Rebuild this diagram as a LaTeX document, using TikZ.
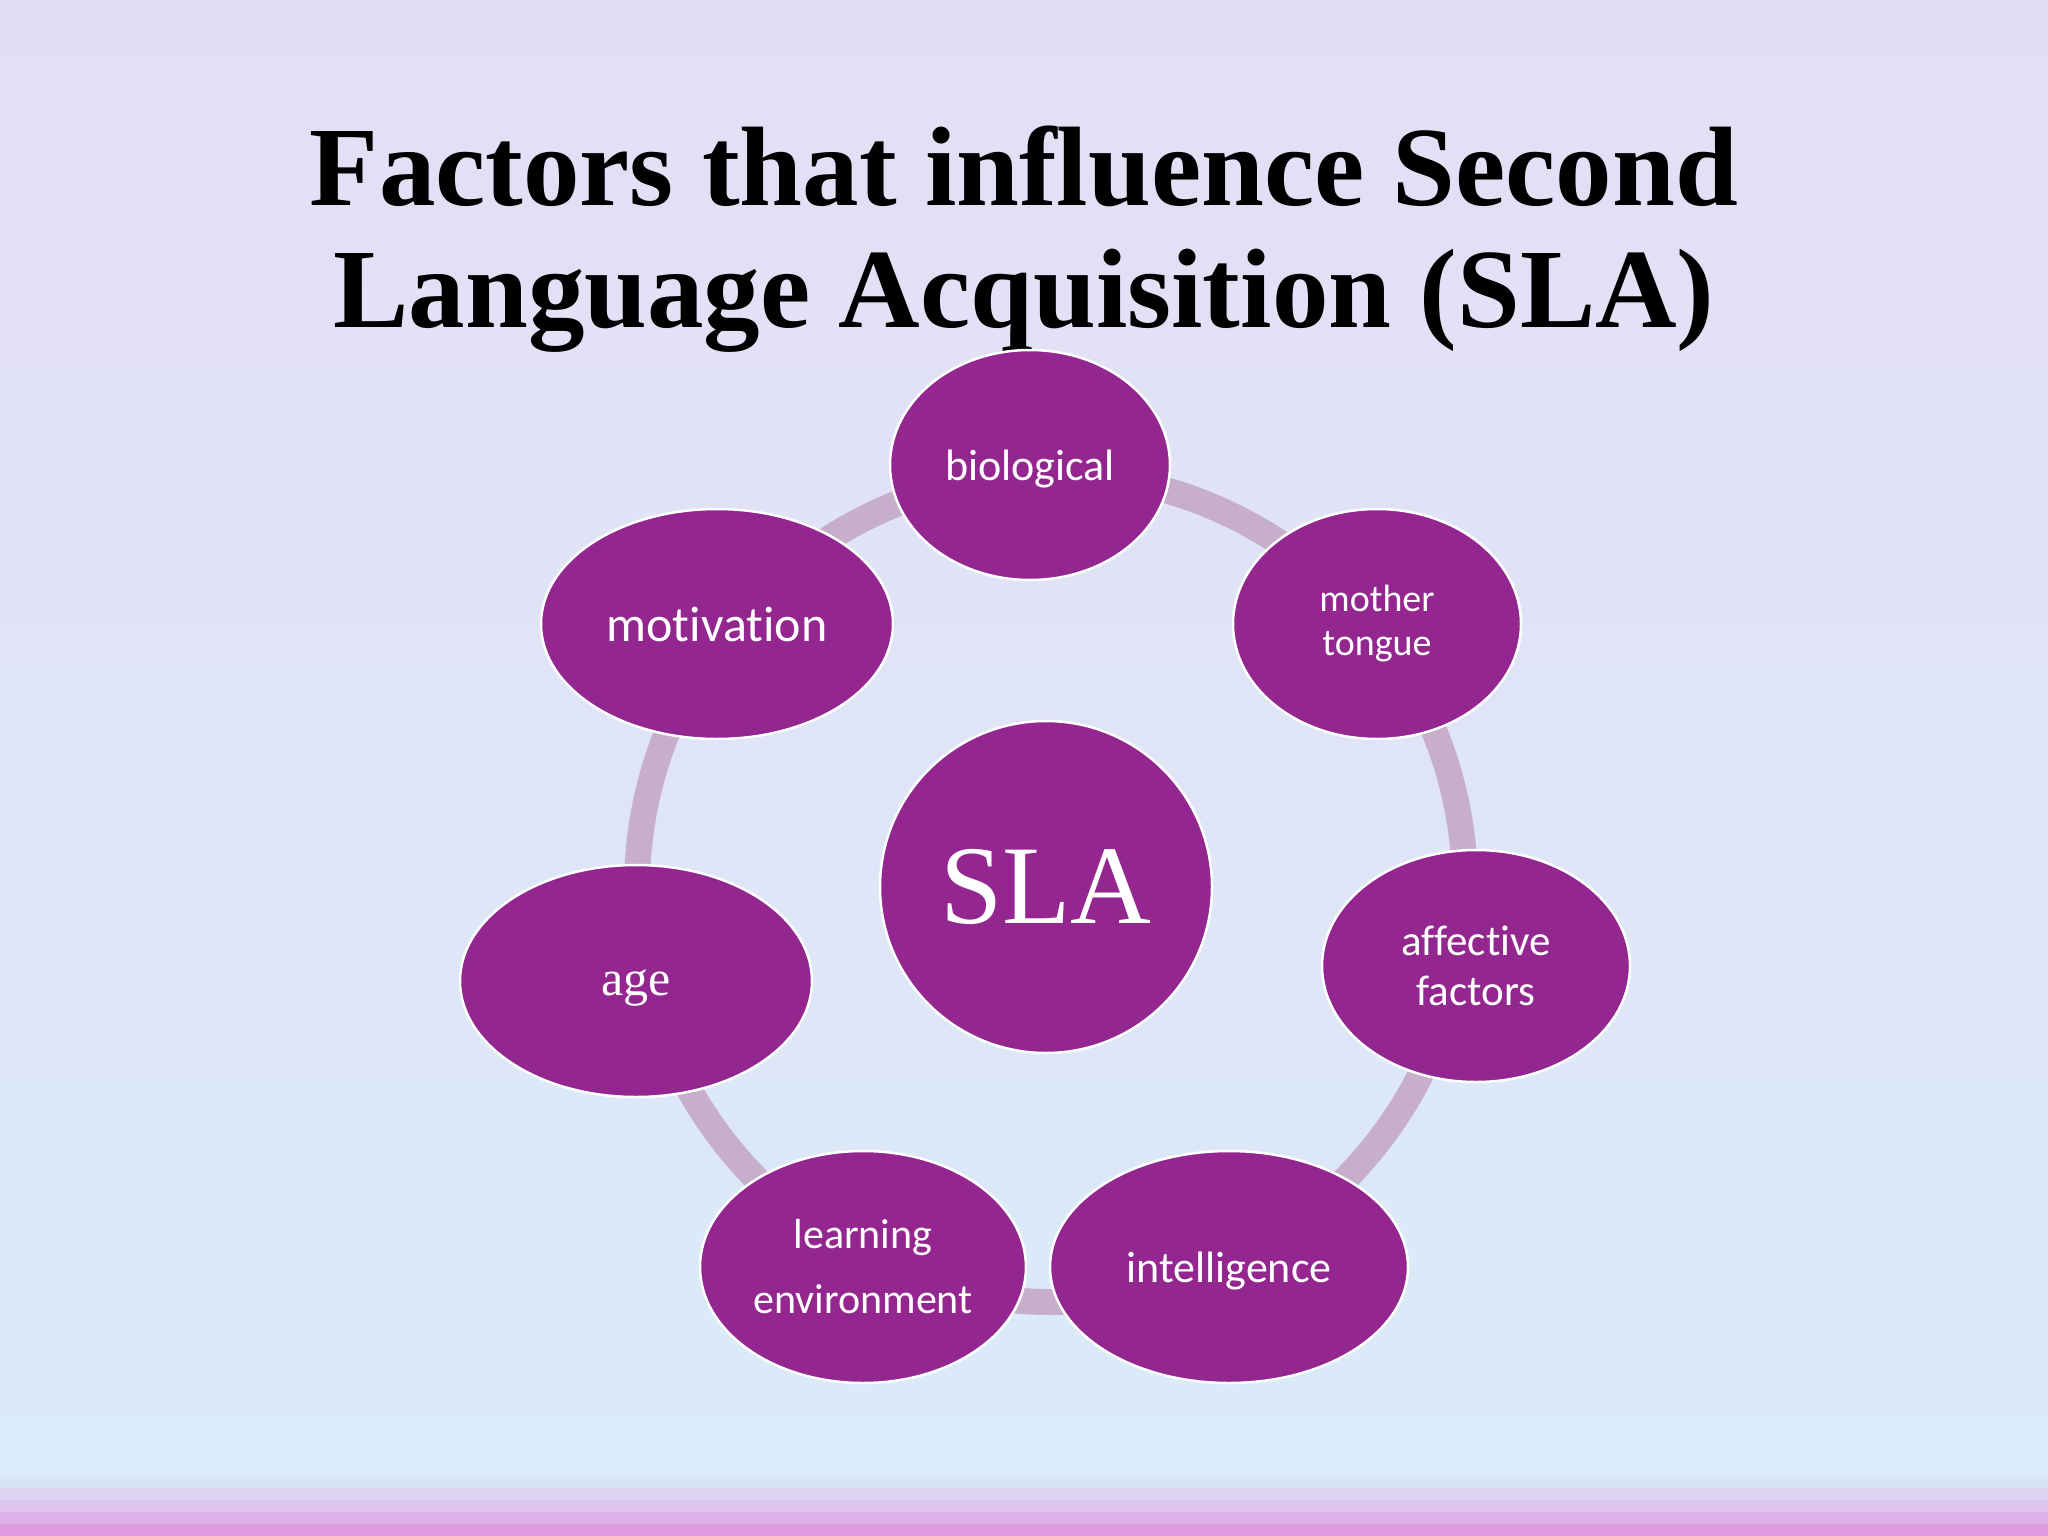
\documentclass[tikz,border=0pt]{standalone}
\usepackage{fontspec}
\setmainfont{Liberation Serif}
\newfontfamily\bodysans[Ligatures=NoCommon]{Carlito}
\usetikzlibrary{shapes.geometric}
\definecolor{bgtop}{HTML}{E4DEF4}
\definecolor{bgbot}{HTML}{DAEBF9}
\definecolor{nodepurple}{HTML}{93278F}
\definecolor{ringcol}{HTML}{C7AFCB}
\definecolor{stA}{HTML}{D8E3F5}
\definecolor{stB}{HTML}{DCD2F2}
\definecolor{stC}{HTML}{DFC3EC}
\definecolor{stD}{HTML}{DEB0E8}
\definecolor{stE}{HTML}{DE9ADE}
\tikzset{
  factor/.style={ellipse, fill=nodepurple, draw=white, line width=2.5pt, inner sep=0pt,
    text=white, align=center, font=\bodysans\fontsize{44}{50}\selectfont},
}
\begin{document}
\begin{tikzpicture}[x=1pt,y=-1pt]
\useasboundingbox (0,0) rectangle (2048,1536);
\shade[top color=bgtop, bottom color=bgbot] (0,0) rectangle (2048,1476);
\fill[stA] (0,1476) rectangle (2048,1488);
\fill[stB] (0,1488) rectangle (2048,1500);
\fill[stC] (0,1500) rectangle (2048,1512);
\fill[stD] (0,1512) rectangle (2048,1524);
\fill[stE] (0,1524) rectangle (2048,1536);

\node[anchor=base, font=\bfseries\fontsize{113}{120}\selectfont] (t1) at (1024,205) {Factors that influence Second};
\node[anchor=base, font=\bfseries\fontsize{113}{120}\selectfont] (t2) at (1024,327) {Language Acquisition (SLA)};

\coordinate (ringc) at (1051,888);
\draw[ringcol, line width=26pt] (ringc) circle[radius=414];

\node[circle, fill=nodepurple, draw=white, line width=2.5pt, minimum size=332, inner sep=0pt,
  text=white, font=\fontsize{112}{120}\selectfont] (sla) at (1046,887) {SLA};

\node[factor, minimum width=280, minimum height=230, text depth=0pt] (bio) at (1030,465) {biological};
\node[factor, minimum width=288, minimum height=230, font=\bodysans\fontsize{38}{44}\selectfont] (mt) at (1377,624) {mother\\tongue};
\node[factor, minimum width=308, minimum height=232, font=\bodysans\fontsize{43}{50}\selectfont] (aff) at (1476,966) {affective\\factors};
\node[factor, minimum width=358, minimum height=232, text depth=0pt] (int) at (1229,1267) {intelligence};
\node[factor, minimum width=326, minimum height=232, font=\bodysans\fontsize{42}{65}\selectfont] (le) at (863,1267) {learning\\environment};
\node[factor, minimum width=352, minimum height=232, font=\fontsize{50}{56}\selectfont, text depth=0pt] (age) at (636,981) {\raisebox{-4pt}{age}};
\node[factor, minimum width=352, minimum height=230, font=\bodysans\fontsize{50}{56}\selectfont] (mot) at (717,624) {motivation};
\end{tikzpicture}
\end{document}
